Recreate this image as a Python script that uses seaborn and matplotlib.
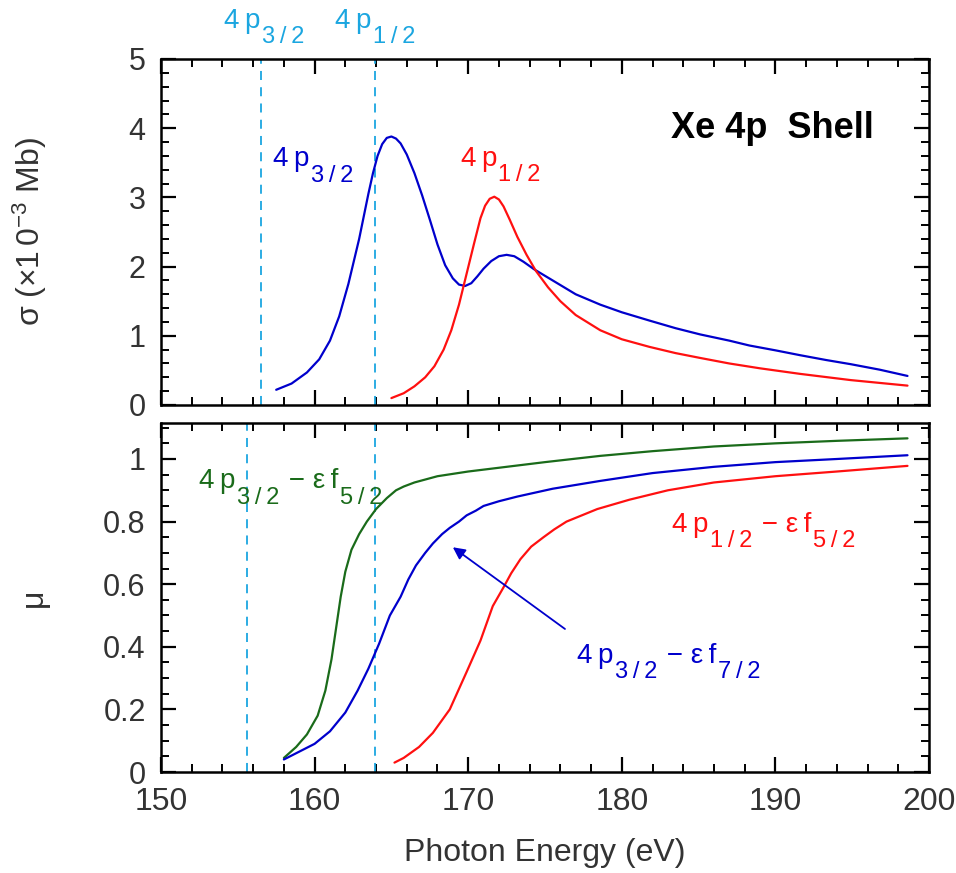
import numpy as np
import pandas as pd
import matplotlib
matplotlib.use("Agg")
import matplotlib.pyplot as plt
import matplotlib.transforms as mtransforms
import seaborn as sns

# ---------------- data ----------------
top_blue_x = [157.5, 158.5, 159.5, 160.3, 161.0, 161.6, 162.2, 162.9, 163.5, 163.8, 164.1, 164.4,
              164.7, 165.0, 165.3, 165.6, 166.0, 166.5, 167.0, 167.5, 168.0, 168.5, 169.0, 169.4,
              169.8, 170.2, 170.6, 171.0, 171.5, 172.0, 172.5, 173.0, 173.6, 174.3, 175.5, 177.0,
              178.6, 180.0, 181.8, 183.5, 185.1, 187.0, 188.3, 190.0, 191.6, 193.3, 194.9, 196.8,
              198.6]
top_blue_y = [0.22, 0.31, 0.47, 0.66, 0.93, 1.28, 1.75, 2.40, 3.05, 3.35, 3.60, 3.77,
              3.86, 3.88, 3.85, 3.78, 3.62, 3.35, 3.03, 2.68, 2.32, 2.02, 1.83, 1.74,
              1.72, 1.76, 1.86, 1.97, 2.08, 2.15, 2.17, 2.15, 2.07, 1.96, 1.80, 1.60,
              1.45, 1.34, 1.22, 1.11, 1.02, 0.93, 0.86, 0.79, 0.72, 0.65, 0.59, 0.51,
              0.42]

top_red_x = [165.0, 165.8, 166.5, 167.2, 167.8, 168.4, 168.9, 169.4, 169.9, 170.4, 170.8, 171.1,
             171.4, 171.7, 172.0, 172.3, 172.7, 173.2, 173.8, 174.4, 175.2, 176.0, 177.0, 178.6,
             180.0, 181.8, 183.5, 185.1, 187.0, 189.0, 191.6, 194.9, 198.6]
top_red_y = [0.10, 0.17, 0.27, 0.40, 0.56, 0.80, 1.08, 1.45, 1.90, 2.35, 2.70, 2.88,
             2.98, 3.01, 2.97, 2.87, 2.68, 2.43, 2.17, 1.94, 1.70, 1.50, 1.30, 1.08,
             0.95, 0.84, 0.75, 0.68, 0.60, 0.53, 0.45, 0.36, 0.28]

bot_green_x = [158.0, 158.8, 159.5, 160.2, 160.7, 161.1, 161.4, 161.7, 162.0, 162.4, 162.9, 163.4,
               164.0, 164.7, 165.3, 165.8, 166.5, 168.0, 170.0, 172.5, 175.0, 178.6, 182.0, 186.0,
               190.0, 194.0, 198.6]
bot_green_y = [0.045, 0.08, 0.12, 0.18, 0.26, 0.36, 0.46, 0.56, 0.64, 0.71, 0.76, 0.80,
               0.84, 0.875, 0.90, 0.912, 0.925, 0.945, 0.96, 0.975, 0.99, 1.01, 1.025, 1.04,
               1.05, 1.058, 1.066]

bot_blue_x = [158.0, 159.0, 160.0, 161.0, 162.0, 162.8, 163.5, 164.2, 164.9, 165.6, 166.1, 166.6,
              167.2, 167.7, 168.3, 168.8, 169.4, 169.9, 170.5, 171.0, 172.0, 173.2, 175.5, 178.6,
              182.0, 186.0, 190.0, 194.0, 198.6]
bot_blue_y = [0.04, 0.065, 0.09, 0.13, 0.19, 0.26, 0.33, 0.41, 0.50, 0.56, 0.615, 0.66,
              0.70, 0.73, 0.76, 0.78, 0.80, 0.82, 0.835, 0.85, 0.865, 0.88, 0.905, 0.93,
              0.955, 0.975, 0.99, 1.0, 1.012]

bot_red_x = [165.2, 165.8, 166.8, 167.7, 168.8, 169.9, 170.8, 171.6, 172.3, 172.8, 173.4, 174.1,
             174.9, 175.6, 176.4, 177.4, 178.4, 180.5, 183.0, 186.0, 190.0, 194.0, 198.6]
bot_red_y = [0.03, 0.045, 0.08, 0.125, 0.20, 0.32, 0.42, 0.53, 0.59, 0.635, 0.68, 0.72,
             0.75, 0.775, 0.80, 0.82, 0.84, 0.87, 0.90, 0.925, 0.945, 0.96, 0.978]

thresh_top = [156.5, 163.9]
thresh_bot = [155.6, 163.9]

x_ticks = [150, 160, 170, 180, 190, 200]
top_yticks = [0, 1, 2, 3, 4, 5]
bot_yticks = [0, 0.2, 0.4, 0.6, 0.8, 1]
bot_yticklabels = ["0", "0.2", "0.4", "0.6", "0.8", "1"]

# ---------------- style ----------------
sns.set_style("ticks")
plt.rcParams['font.family'] = ['Liberation Sans', 'DejaVu Sans']
plt.rcParams['mathtext.fontset'] = 'custom'
plt.rcParams['mathtext.rm'] = 'Liberation Sans'
plt.rcParams['mathtext.it'] = 'Liberation Sans:italic'
plt.rcParams['mathtext.bf'] = 'Liberation Sans:bold'
plt.rcParams['mathtext.sf'] = 'Liberation Sans'

BLUE = '#0000cc'
RED = '#ff1010'
GREEN = '#1a6b1a'
CYAN = '#1ba6e0'
TXT = '#333333'
TS = '\u2009'  # thin space

fig = plt.figure(figsize=(9.56, 8.73), dpi=100)
ax1 = fig.add_axes([161/956, 1-405/873, 768/956, 346/873])
ax2 = fig.add_axes([161/956, 1-772/873, 768/956, 349/873])

def df(x, y):
    return pd.DataFrame({'x': x, 'y': y})

lw = 1.6
sns.lineplot(data=df(top_blue_x, top_blue_y), x='x', y='y', ax=ax1, color=BLUE, lw=lw, sort=False)
sns.lineplot(data=df(top_red_x, top_red_y), x='x', y='y', ax=ax1, color=RED, lw=lw, sort=False)
sns.lineplot(data=df(bot_green_x, bot_green_y), x='x', y='y', ax=ax2, color=GREEN, lw=lw, sort=False)
sns.lineplot(data=df(bot_blue_x, bot_blue_y), x='x', y='y', ax=ax2, color=BLUE, lw=lw, sort=False)
sns.lineplot(data=df(bot_red_x, bot_red_y), x='x', y='y', ax=ax2, color=RED, lw=lw, sort=False)

for xv in thresh_top:
    ax1.axvline(xv, color=CYAN, lw=1.3, ls=(0, (5, 4)), zorder=1)
for xv in thresh_bot:
    ax2.axvline(xv, color=CYAN, lw=1.3, ls=(0, (5, 4)), zorder=1)

for ax in (ax1, ax2):
    ax.set_xlim(150, 200)
    ax.set_xticks(x_ticks)
    ax.set_xticks(np.arange(150, 201, 2), minor=True)
    for s in ax.spines.values():
        s.set_visible(True)
        s.set_linewidth(1.8)
        s.set_color('black')
    ax.tick_params(which='both', direction='in', top=True, right=True, color='black',
                   labelsize=22, labelcolor=TXT)
    ax.tick_params(which='major', length=11, width=1.6, pad=11)
    ax.tick_params(which='minor', length=6, width=1.4)
    ax.set_xlabel('')
    ax.set_ylabel('')

ax1.set_ylim(0, 5)
ax1.set_yticks(top_yticks)
ax1.set_yticks(np.arange(0, 5.01, 0.2), minor=True)
ax1.tick_params(axis='x', labelbottom=False)

ax2.set_ylim(0, 1.115)
ax2.set_yticks(bot_yticks)
ax2.set_yticklabels(bot_yticklabels)
ax2.set_yticks(np.arange(0, 1.11, 0.05), minor=True)
ax2.tick_params(axis='x', labelsize=23)

ax1.set_ylabel(r'σ (×1$\,$0$^{\mathregular{-3}}$ Mb)', fontsize=23, color=TXT)
ax1.yaxis.set_label_coords(-0.146, 0.5)
ax2.set_ylabel('μ', fontsize=23, color=TXT)
ax2.yaxis.set_label_coords(-0.146, 0.5)
ax2.set_xlabel('Photon Energy (eV)', fontsize=23, color=TXT)
ax2.xaxis.set_label_coords(0.5, -0.19)

# ---------------- annotations ----------------
renderer = fig.canvas.get_renderer()

def rich_text(ax, x, y, pieces, color, size=20, subsize=17, drop=11, gap=1.0):
    off = 0.0
    for txt, kind in pieces:
        sub = kind == 's'
        tr = mtransforms.offset_copy(ax.transData, fig=fig, x=off, y=-drop if sub else 0,
                                     units='points')
        t = ax.text(x, y, txt, transform=tr, fontsize=subsize if sub else size, color=color,
                    ha='left', va='baseline', clip_on=False)
        bb = t.get_window_extent(renderer)
        off += bb.width * 72.0 / fig.dpi + gap

def lab(level, j, f=None):
    p = [('4' + TS + 'p', 'n'), (j[0] + TS + '/' + TS + j[2], 's')]
    if f is not None:
        p += [(' \u2212 ε' + TS + 'f', 'n'), (f[0] + TS + '/' + TS + f[2], 's')]
    return p

rich_text(ax1, 154.1, 5.45, lab('4p', '3/2'), CYAN)
rich_text(ax1, 161.35, 5.45, lab('4p', '1/2'), CYAN)
rich_text(ax1, 157.3, 3.45, lab('4p', '3/2'), BLUE)
rich_text(ax1, 169.5, 3.46, lab('4p', '1/2'), RED)
ax1.text(183.2, 3.86, 'Xe 4p  Shell', color='black', fontsize=26, fontweight='bold',
         ha='left', va='baseline')

rich_text(ax2, 152.5, 0.906, lab('4p', '3/2', '5/2'), GREEN)
rich_text(ax2, 183.3, 0.768, lab('4p', '1/2', '5/2'), RED)
rich_text(ax2, 177.1, 0.349, lab('4p', '3/2', '7/2'), BLUE)
ax2.annotate('', xy=(169.0, 0.718), xytext=(176.3, 0.457),
             arrowprops=dict(arrowstyle='-|>', color=BLUE, lw=1.3, mutation_scale=18,
                             shrinkA=0, shrinkB=0))

fig.savefig('out.png', dpi=100)
